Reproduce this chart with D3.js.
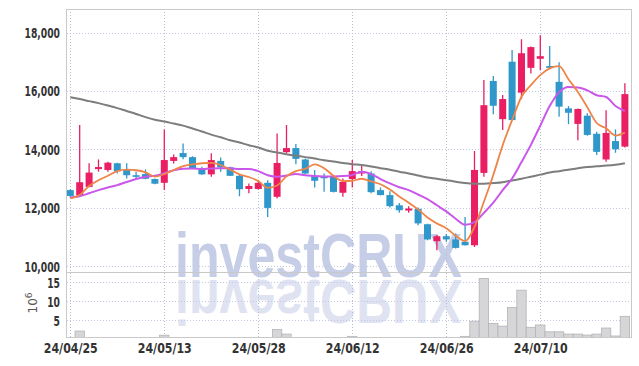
<!DOCTYPE html>
<html>
<head>
<meta charset="utf-8">
<script src="https://cdn.jsdelivr.net/npm/d3@7/dist/d3.min.js"></script>
<style>
  body { margin: 0; background: #fff; }
  svg { display: block; }
  .axis text { font-family: "DejaVu Sans Condensed", "DejaVu Sans", sans-serif; font-weight: bold; fill: #333; }
</style>
</head>
<body>
<svg id="chart" width="639" height="366"></svg>
<script>
// trading days shown on the chart
const dates = [
  '24/04/25', '24/04/26', '24/04/29', '24/04/30', '24/05/02', '24/05/03', '24/05/07', '24/05/08', '24/05/09', '24/05/10',
  '24/05/13', '24/05/14', '24/05/16', '24/05/17', '24/05/20', '24/05/21', '24/05/22', '24/05/23', '24/05/24', '24/05/27',
  '24/05/28', '24/05/29', '24/05/30', '24/05/31', '24/06/03', '24/06/04', '24/06/05', '24/06/07', '24/06/10', '24/06/11',
  '24/06/12', '24/06/13', '24/06/14', '24/06/17', '24/06/18', '24/06/19', '24/06/20', '24/06/21', '24/06/24', '24/06/25',
  '24/06/26', '24/06/27', '24/06/28', '24/07/01', '24/07/02', '24/07/03', '24/07/04', '24/07/05', '24/07/08', '24/07/09',
  '24/07/10', '24/07/11', '24/07/12', '24/07/15', '24/07/16', '24/07/17', '24/07/18', '24/07/19', '24/07/22', '24/07/23'
];

const openPrice = [
  12600, 12420, 12710, 13320, 13290, 13520, 13290, 13110, 13150, 12980,
  12850, 13600, 13870, 13730, 13320, 13140, 13600, 13380, 13090, 12640,
  12640, 12850, 12370, 13900, 14040, 13650, 13080, 13060, 13060, 12510,
  12980, 13170, 13170, 12600, 12430, 12080, 11900, 11960, 11430, 10850,
  11020, 10910, 10830, 10710, 13190, 16340, 15030, 17000, 15940, 16790,
  17100, 16850, 16310, 15400, 14870, 15150, 14530, 13650, 14280, 14090
];
const highPrice = [
  12630, 14830, 13520, 13650, 13570, 13540, 13520, 13230, 13310, 13000,
  14680, 13820, 14200, 13760, 13400, 13860, 13720, 13400, 13120, 12830,
  12940, 12940, 14540, 14830, 14180, 13680, 13290, 13170, 13080, 13000,
  13630, 13460, 13250, 12690, 12560, 12160, 12050, 12000, 11450, 11060,
  11100, 11110, 11680, 13940, 16370, 16510, 15860, 17400, 17770, 17520,
  17910, 17540, 16980, 15480, 15400, 15230, 14600, 15340, 14680, 16260
];
const lowPrice = [
  12350, 12400, 12700, 13230, 13230, 13170, 13000, 13000, 12970, 12800,
  12600, 13510, 13660, 13320, 13120, 13060, 13230, 13080, 12390, 12490,
  12620, 11680, 12310, 13860, 13490, 13150, 12690, 12540, 12520, 12370,
  12690, 13080, 12490, 12420, 12000, 11820, 11820, 11400, 10880, 10540,
  10830, 10600, 10700, 10650, 13060, 15200, 14660, 14980, 15720, 16600,
  16710, 16790, 15110, 14860, 14310, 14460, 13800, 13570, 13880, 14060
];
const closePrice = [
  12400, 12870, 13200, 13390, 13540, 13250, 13110, 13080, 12990, 12820,
  13630, 13730, 13730, 13340, 13140, 13630, 13380, 13090, 12630, 12740,
  12850, 11990, 13530, 14040, 13670, 13170, 12920, 13010, 12540, 12880,
  13250, 13250, 12530, 12430, 12050, 11910, 11970, 11460, 10910, 11020,
  10910, 10620, 10710, 13290, 15510, 15490, 15720, 15000, 17290, 17500,
  17190, 16790, 15460, 15250, 15380, 14490, 13910, 14560, 14000, 15890
];

// volume, millions of shares
const volume = [
  0.3, 2.1, 0.3, 0.2, 0.3, 0.2, 0.3, 0.2, 0.2, 0.3,
  1.0, 0.3, 0.2, 0.3, 0.2, 0.2, 0.3, 0.2, 0.2, 0.3,
  0.3, 0.4, 2.5, 1.3, 0.4, 0.3, 0.2, 0.3, 0.2, 0.3,
  0.7, 0.3, 0.2, 0.3, 0.2, 0.3, 0.2, 0.2, 0.3, 0.4,
  0.3, 0.4, 0.7, 4.7, 16.0, 4.1, 3.4, 8.3, 12.9, 3.1,
  3.7, 1.9, 1.9, 1.3, 1.3, 1.05, 1.3, 2.9, 0.8, 6.0
];

// moving averages
const ma5 = [
  12320, 12430, 12740, 12940, 13090, 13250, 13300, 13280, 13210, 13060,
  13150, 13290, 13420, 13480, 13520, 13530, 13460, 13300, 13140, 13050,
  12910, 12680, 12760, 13070, 13250, 13330, 13480, 13350, 13090, 12910,
  12920, 12990, 12900, 12800, 12620, 12380, 12170, 11940, 11660, 11460,
  11290, 11040, 10850, 11340, 12200, 13120, 14140, 15000, 15800, 16200,
  16540, 16770, 16850, 16400, 15960, 15440, 14900, 14720, 14470, 14570
];
const ma10 = [
  12350, 12390, 12490, 12600, 12690, 12770, 12880, 12980, 13060, 13090,
  13180, 13280, 13330, 13340, 13320, 13340, 13350, 13350, 13320, 13320,
  13250, 13110, 13060, 13100, 13150, 13110, 13080, 13070, 13070, 13080,
  13120, 13230, 13150, 12980, 12830, 12700, 12600, 12450, 12290, 12080,
  11870, 11620, 11410, 11500, 11820, 12170, 12600, 13000, 13560, 14150,
  14810, 15480, 15950, 16130, 16120, 16020, 15850, 15790, 15480, 15310
];
const maLong = [
  15780, 15720, 15650, 15580, 15500, 15410, 15310, 15210, 15100, 15010,
  14950, 14880, 14810, 14710, 14610, 14500, 14410, 14310, 14230, 14140,
  14060, 13950, 13890, 13830, 13780, 13730, 13680, 13620, 13580, 13530,
  13490, 13460, 13410, 13350, 13300, 13230, 13170, 13100, 13030, 12990,
  12940, 12890, 12840, 12820, 12820, 12840, 12870, 12930, 12990, 13060,
  13130, 13200, 13250, 13300, 13350, 13390, 13420, 13440, 13470, 13520
];

const priceTicks = [10000, 12000, 14000, 16000, 18000];
const volumeTicks = [5, 10, 15];
const dateTicks = [0, 10, 20, 30, 40, 50];

const upColor = '#e91e63';
const downColor = '#2f97c9';

const plotLeft = 67, plotRight = 631, plotTop = 9, plotSplit = 272, plotBottom = 337;

const svg = d3.select('#chart');

const x = d3.scaleLinear().domain([-0.35, dates.length - 0.35]).range([plotLeft, plotRight]);
const y = d3.scaleLinear().domain([9794, 18806]).range([plotSplit, plotTop]);
const yVol = d3.scaleLinear().domain([0, 17.7]).range([339, plotSplit]);
const step = x(1) - x(0);

const defs = svg.append('defs');
defs.append('clipPath').attr('id', 'clip-price')
  .append('rect').attr('x', plotLeft).attr('y', plotTop)
  .attr('width', plotRight - plotLeft).attr('height', plotSplit - plotTop);
defs.append('clipPath').attr('id', 'clip-vol')
  .append('rect').attr('x', plotLeft).attr('y', plotSplit)
  .attr('width', plotRight - plotLeft).attr('height', plotBottom - plotSplit);

// watermark, and its mirror image below the price panel
const mark = svg.append('g').attr('class', 'watermark');
mark.append('text')
  .attr('id', 'wm')
  .attr('x', 175).attr('y', 277)
  .attr('textLength', 287).attr('lengthAdjust', 'spacingAndGlyphs')
  .style('font-family', '"Liberation Sans", Arial, sans-serif')
  .style('font-weight', 'bold').style('font-size', '63px')
  .attr('fill', '#c6cde6')
  .text('investCRUX');
mark.append('g').attr('clip-path', 'url(#clip-vol)')
  .append('g').attr('transform', 'translate(0,557) scale(1,-1)').attr('opacity', 0.55)
  .append('use').attr('href', '#wm');

// grid
const grid = svg.append('g').attr('class', 'grid')
  .attr('stroke-dasharray', '1,2').attr('stroke-width', 1);
grid.selectAll('.hp').data(priceTicks).join('line')
  .attr('x1', plotLeft).attr('x2', plotRight)
  .attr('y1', d => Math.round(y(d)) + 0.5).attr('y2', d => Math.round(y(d)) + 0.5)
  .attr('stroke', '#c3c8e4');
grid.selectAll('.hv').data(volumeTicks).join('line')
  .attr('x1', plotLeft).attr('x2', plotRight)
  .attr('y1', d => Math.round(yVol(d)) + 0.5).attr('y2', d => Math.round(yVol(d)) + 0.5)
  .attr('stroke', '#c3c8e4');
grid.selectAll('.vx').data(dateTicks).join('line')
  .attr('x1', d => Math.round(x(d)) + 0.5).attr('x2', d => Math.round(x(d)) + 0.5)
  .attr('y1', plotTop).attr('y2', plotBottom)
  .attr('stroke', '#bcbcd0');

// volume bars
svg.append('g').attr('clip-path', 'url(#clip-vol)')
  .selectAll('rect').data(volume).join('rect')
  .attr('x', (d, i) => x(i) - step / 2)
  .attr('width', step)
  .attr('y', d => yVol(d))
  .attr('height', d => yVol(0) - yVol(d))
  .attr('fill', '#d6d6d8')
  .attr('stroke', '#b4b4b8')
  .attr('stroke-width', 0.8);

// candles
const isUp = i => closePrice[i] >= openPrice[i];
const candles = svg.append('g').attr('clip-path', 'url(#clip-price)')
  .selectAll('g').data(dates).join('g')
  .attr('transform', (d, i) => `translate(${x(i)},0)`);
candles.append('line')
  .attr('y1', (d, i) => y(highPrice[i])).attr('y2', (d, i) => y(lowPrice[i]))
  .attr('stroke', (d, i) => isUp(i) ? upColor : downColor)
  .attr('stroke-width', 1.3);
candles.append('rect')
  .attr('x', -3.5).attr('width', 7)
  .attr('y', (d, i) => y(Math.max(openPrice[i], closePrice[i])))
  .attr('height', (d, i) => Math.max(1.6, Math.abs(y(openPrice[i]) - y(closePrice[i]))))
  .attr('fill', (d, i) => isUp(i) ? upColor : downColor);

// moving averages
const line = d3.line().x((d, i) => x(i)).y(d => y(d)).curve(d3.curveMonotoneX);
const lines = svg.append('g').attr('clip-path', 'url(#clip-price)').attr('fill', 'none');
lines.append('path').attr('d', line(maLong)).attr('stroke', '#7d7d7d').attr('stroke-width', 2);
lines.append('path').attr('d', line(ma10)).attr('stroke', '#c957ea').attr('stroke-width', 2);
lines.append('path').attr('d', line(ma5)).attr('stroke', '#ef8448').attr('stroke-width', 1.8);

// frame
const frame = svg.append('g').attr('stroke', '#c9c9c9').attr('fill', 'none');
frame.append('rect').attr('x', plotLeft - 0.5).attr('y', plotTop + 0.5)
  .attr('width', plotRight - plotLeft + 1).attr('height', plotBottom - plotTop);
frame.append('line').attr('x1', plotLeft).attr('x2', plotRight)
  .attr('y1', plotSplit + 0.5).attr('y2', plotSplit + 0.5);

// the reference labels use a narrow face: fit each label to its width there
function fitWidth(sel, digitW, otherW) {
  sel.each(function () {
    const s = this.textContent;
    const digits = s.replace(/[^0-9]/g, '').length;
    const w = digits * digitW + (s.length - digits) * otherW;
    d3.select(this).attr('textLength', w).attr('lengthAdjust', 'spacingAndGlyphs');
  });
}

// axes
svg.append('g').attr('class', 'axis')
  .attr('transform', `translate(${plotLeft - 4},0)`)
  .call(d3.axisLeft(y).tickValues(priceTicks).tickFormat(d3.format(',')).tickSize(0))
  .call(g => g.select('.domain').remove())
  .selectAll('text').style('font-size', '14.5px').attr('dy', '0.35em')
  .call(fitWidth, 6.4, 3.5);

svg.append('g').attr('class', 'axis')
  .attr('transform', `translate(${plotLeft - 4},0)`)
  .call(d3.axisLeft(yVol).tickValues(volumeTicks).tickSize(0))
  .call(g => g.select('.domain').remove())
  .selectAll('text').style('font-size', '14.5px').attr('dy', '0.35em')
  .call(fitWidth, 6.4, 3.5);

svg.append('g').attr('class', 'axis')
  .attr('transform', `translate(0,${plotBottom})`)
  .call(d3.axisBottom(x).tickValues(dateTicks).tickFormat(i => dates[i]).tickSize(0).tickPadding(6))
  .call(g => g.select('.domain').remove())
  .selectAll('text').style('font-size', '14.5px')
  .call(fitWidth, 7.0, 6.0);

// unit label
const unit = svg.append('text')
  .attr('transform', 'translate(37,303) rotate(-90)')
  .attr('text-anchor', 'middle')
  .style('font-family', '"DejaVu Sans", sans-serif')
  .style('font-size', '12px')
  .attr('fill', '#555');
unit.append('tspan').text('10');
unit.append('tspan').attr('dy', -5).style('font-size', '9px').text('6');
</script>
</body>
</html>
